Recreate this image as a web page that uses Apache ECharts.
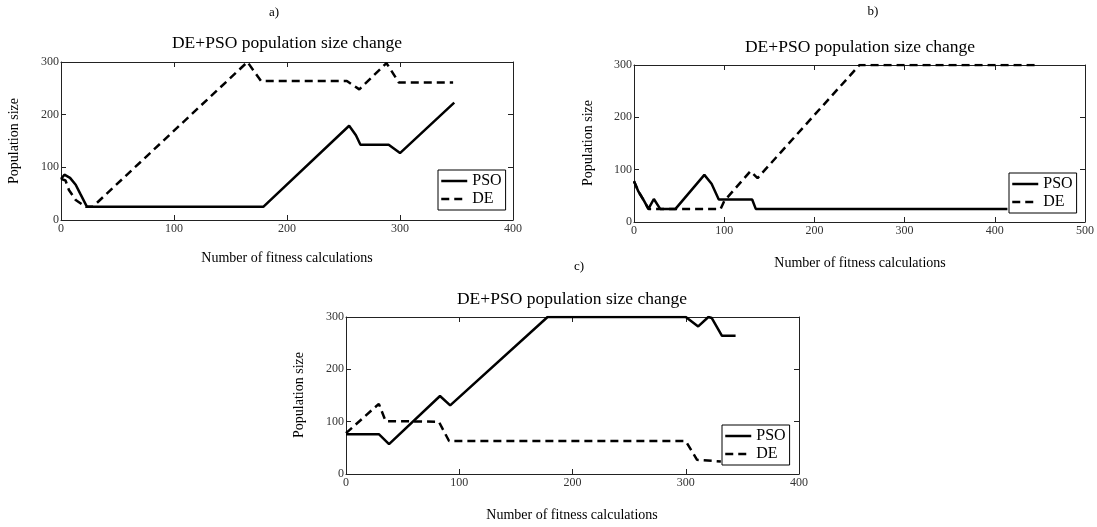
<!DOCTYPE html>
<html>
<head>
<meta charset="utf-8">
<script src="https://cdn.jsdelivr.net/npm/echarts@6/dist/echarts.min.js"></script>
<style>
html,body{margin:0;padding:0;background:#fff;}
#chart{width:1097px;height:527px;}
</style>
</head>
<body>
<div id="chart"></div>
<script>
// ---- Data ----
const seriesNames = ['PSO', 'DE'];
const panelLabels = ['a)', 'b)', 'c)'];
const chartTitle = 'DE+PSO population size change';
const xAxisTitle = 'Number of fitness calculations';
const yAxisTitle = 'Population size';
const xMaxes = [400, 500, 400];
const yMax = 300;
const tickStep = 100;

const psoA = [[0,78],[3,86],[8,80],[13,67],[17,50],[23,25],[179,25],[255,179],[261,161],[265,143],[290,143],[300,127],[348,223]];
const deA  = [[0,78],[4,75],[7,57],[13,38],[22,25],[28,25],[165,300],[177,264],[253,264],[264,248],[288,298],[299,261],[347,261]];

const psoB = [[0,78],[5,58],[11,41],[16,25],[22,44],[29,25],[46,25],[78,90],[86,73],[94,43],[131,43],[135,25],[414,25]];
const deB  = [[0,78],[5,58],[11,41],[16,25],[96,25],[100,40],[129,97],[137,84],[250,300],[446,300]];

const psoC = [[0,76],[29,76],[38,57],[83,149],[92,131],[178,300],[300,300],[311,282],[320,300],[323,298],[332,264],[344,264]];
const deC  = [[0,78],[29,134],[35,101],[82,100],[91,63],[300,63],[310,27],[331,24]];

const psoData = [psoA, psoB, psoC];
const deData = [deA, deB, deC];

// ---- Layout ----
const FONT = 'Liberation Serif';
const grids = [
  {left: 61, top: 62, width: 452, height: 158},
  {left: 634, top: 65, width: 453, height: 157},
  {left: 346, top: 317, width: 453, height: 157}
];
const legendPos = [
  {left: 438, top: 170},
  {left: 1009, top: 173},
  {left: 722, top: 425}
];
const textPos = [
  {lab: [274, 13], title: [287, 43], xl: [287, 258], yl: [14, 141]},
  {lab: [873, 12], title: [860, 47], xl: [860, 263], yl: [588, 143]},
  {lab: [579, 267], title: [572, 299], xl: [572, 515], yl: [299, 395]}
];

const axisLineStyle = {show: true, onZero: false, lineStyle: {color: '#222', width: 1}};
const tickStyle = {show: true, inside: true, length: 5, lineStyle: {color: '#222'}};

const xAxes = [], yAxes = [], series = [], legends = [], graphics = [];
grids.forEach((g, i) => {
  xAxes.push({
    type: 'value', gridIndex: i, position: 'bottom', min: 0, max: xMaxes[i], interval: tickStep,
    axisLine: axisLineStyle, axisTick: tickStyle, splitLine: {show: false},
    axisLabel: {fontFamily: FONT, fontSize: 12, color: '#333', margin: 3}
  });
  xAxes.push({
    type: 'value', gridIndex: i, position: 'top', min: 0, max: xMaxes[i], interval: tickStep,
    axisLine: axisLineStyle, axisTick: tickStyle, splitLine: {show: false},
    axisLabel: {show: false}
  });
  yAxes.push({
    type: 'value', gridIndex: i, position: 'left', min: 0, max: yMax, interval: tickStep,
    axisLine: axisLineStyle, axisTick: tickStyle, splitLine: {show: false},
    axisLabel: {fontFamily: FONT, fontSize: 12, color: '#333', margin: 2}
  });
  yAxes.push({
    type: 'value', gridIndex: i, position: 'right', min: 0, max: yMax, interval: tickStep,
    axisLine: axisLineStyle, axisTick: tickStyle, splitLine: {show: false},
    axisLabel: {show: false}
  });
  series.push({
    name: seriesNames[0], type: 'line', xAxisIndex: i * 2, yAxisIndex: i * 2,
    data: psoData[i], symbol: 'none', animation: false,
    lineStyle: {color: '#000', width: 2.5, type: 'solid'}, itemStyle: {color: '#000'}
  });
  series.push({
    name: seriesNames[1], type: 'line', xAxisIndex: i * 2, yAxisIndex: i * 2,
    data: deData[i], symbol: 'none', animation: false,
    lineStyle: {color: '#000', width: 2.5, type: [8, 5]}, itemStyle: {color: '#000'}
  });
  legends.push({
    left: legendPos[i].left, top: legendPos[i].top, orient: 'vertical',
    data: seriesNames, selectedMode: false,
    borderColor: '#000', borderWidth: 1, backgroundColor: '#fff',
    padding: [3, 4, 3, 2], itemGap: 2, itemWidth: 26, itemHeight: 14,
    itemStyle: {opacity: 0},
    lineStyle: {opacity: 1, width: 2.5},
    textStyle: {fontFamily: FONT, fontSize: 16, color: '#000'}
  });
  const t = textPos[i];
  graphics.push({type: 'text', x: t.lab[0], y: t.lab[1],
    style: {text: panelLabels[i], font: '13px ' + FONT, fill: '#000', align: 'center', verticalAlign: 'middle', textAlign: 'center', textVerticalAlign: 'middle'}});
  graphics.push({type: 'text', x: t.title[0], y: t.title[1],
    style: {text: chartTitle, font: '17.5px ' + FONT, fill: '#000', align: 'center', verticalAlign: 'middle', textAlign: 'center', textVerticalAlign: 'middle'}});
  graphics.push({type: 'text', x: t.xl[0], y: t.xl[1],
    style: {text: xAxisTitle, font: '14px ' + FONT, fill: '#000', align: 'center', verticalAlign: 'middle', textAlign: 'center', textVerticalAlign: 'middle'}});
  graphics.push({type: 'text', x: t.yl[0], y: t.yl[1], rotation: Math.PI / 2,
    style: {text: yAxisTitle, font: '14px ' + FONT, fill: '#000', align: 'center', verticalAlign: 'middle', textAlign: 'center', textVerticalAlign: 'middle'}});
});

const chart = echarts.init(document.getElementById('chart'), null, {renderer: 'canvas'});
chart.setOption({
  backgroundColor: '#fff',
  animation: false,
  grid: grids,
  xAxis: xAxes,
  yAxis: yAxes,
  legend: legends,
  series: series,
  graphic: graphics
});
</script>
</body>
</html>
